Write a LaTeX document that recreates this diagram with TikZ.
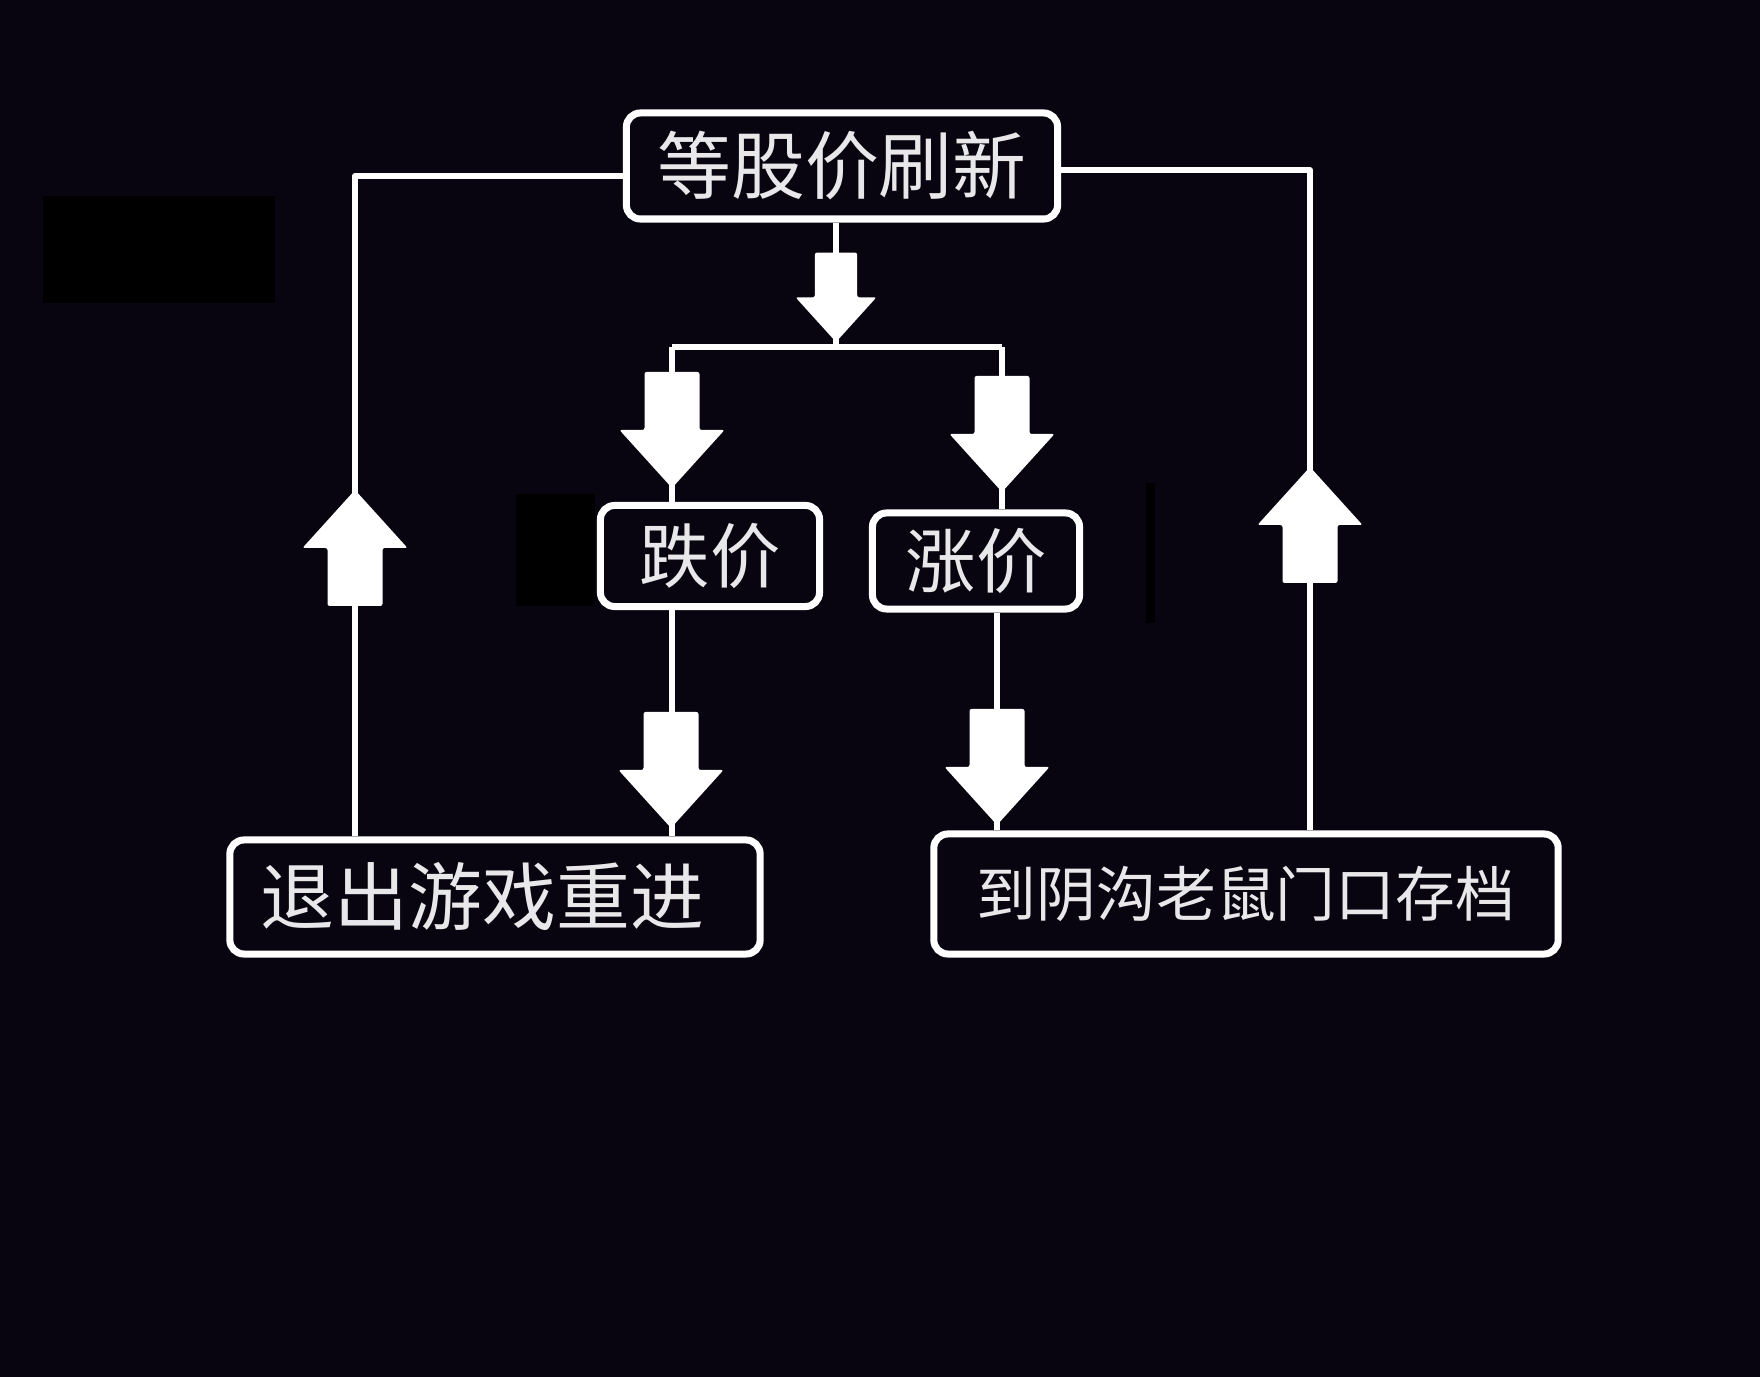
\documentclass[tikz,border=0pt]{standalone}
\usepackage{fontspec}
\newfontfamily\cjk{Noto Sans CJK SC}
\usepackage{tikz}
\usetikzlibrary{positioning,calc}
\definecolor{bgnight}{RGB}{9,5,16}
\definecolor{chalk}{RGB}{232,232,234}
\tikzset{
  stepbox/.style={draw=white, line width=2pt, fill=bgnight, rounded corners=4pt,
                  text=chalk, align=center, inner sep=2pt},
  link/.style={draw=white, line width=1.7pt, line join=round},
  fatarr/.style={fill=white, rounded corners=0.6pt}
}
% block arrows: #1 = tip, #2 = scale
\newcommand{\fatdown}[2]{\fill[fatarr, shift={(#1)}, scale=#2] (0,0) -- ++(52.5,-58) -- ++(-25,0) -- ++(0,-58) -- ++(-55,0) -- ++(0,58) -- ++(-25,0) -- cycle;}
\newcommand{\fatup}[2]{\fill[fatarr, shift={(#1)}, scale=#2] (0,0) -- ++(52.5,58) -- ++(-25,0) -- ++(0,58) -- ++(-55,0) -- ++(0,-58) -- ++(-25,0) -- cycle;}

\begin{document}
\begin{tikzpicture}[x=0.01cm, y=-0.01cm]
    \fill[bgnight] (0,0) rectangle (1760,1377);
    \useasboundingbox (0,0) rectangle (1760,1377);
    % covered patches
    \fill[black] (43,196) rectangle (275,303);
    \fill[black] (516,494) rectangle (595,606);
    \fill[black] (1146,483) rectangle (1155,623);

    \node[stepbox, minimum width=4.31cm, minimum height=1.06cm,
          font=\cjk\fontsize{21}{25}\selectfont] (top) at (842,166) {等股价刷新};
    \node[stepbox, minimum width=2.19cm, minimum height=1.01cm,
          font=\cjk\fontsize{20}{24}\selectfont] (fall) at (710,556) {跌价};
    \node[stepbox, minimum width=2.07cm, minimum height=0.96cm,
          font=\cjk\fontsize{20}{24}\selectfont] (rise) at (976,561) {涨价};
    \node[stepbox, minimum width=5.30cm, minimum height=1.14cm,
          font=\cjk\fontsize{21}{25}\selectfont] (quit) at (495,897) {退出游戏重进\hspace{0.25cm}};
    \node[stepbox, minimum width=6.24cm, minimum height=1.20cm,
          font=\cjk\fontsize{17}{21}\selectfont] (save) at (1246,894) {到阴沟老鼠门口存档};

    \coordinate (split) at (836,347);
    \coordinate (fl) at (672,347);
    \coordinate (rl) at (1002,347);
    \coordinate (rd) at (997,700);
    \coordinate (lc) at (355,176);
    \coordinate (rc) at (1310,170);

    \draw[link] (top.south -| split) -- (split);
    \draw[link] (fl) -- (rl);
    \draw[link] (fl) -- (fall.north -| fl);
    \draw[link] (rl) -- (rise.north -| rl);
    \draw[link] (fall.south -| fl) -- (quit.north -| fl);
    \draw[link] (rise.south -| rd) -- (save.north -| rd);
    \draw[link] (quit.north -| lc) -- (lc) -- (lc -| top.west);
    \draw[link] (save.north -| rc) -- (rc) -- (rc -| top.east);

    \fatdown{836,342}{0.77}
    \fatdown{672,488}{1}
    \fatdown{1002,492}{1}
    \fatdown{671,828}{1}
    \fatdown{997,825}{1}
    \fatup{355,490}{1}
    \fatup{1310,467}{1}
\end{tikzpicture}
\end{document}
